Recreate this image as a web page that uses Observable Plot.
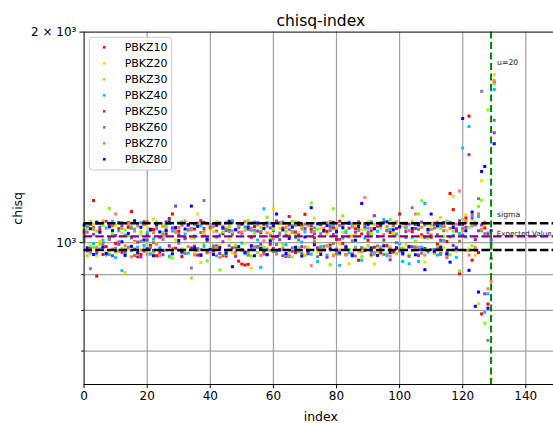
<!DOCTYPE html>
<html><head><meta charset="utf-8">
<script src="https://cdn.jsdelivr.net/npm/d3@7"></script>
<script src="https://cdn.jsdelivr.net/npm/@observablehq/plot@0.6"></script>
<style>
body{margin:0;background:#fff;}
#chart svg{font-family:"DejaVu Sans",sans-serif;}
</style></head><body><div id="chart"></div>
<script>
const seriesNames = ["PBKZ10","PBKZ20","PBKZ30","PBKZ40","PBKZ50","PBKZ60","PBKZ70","PBKZ80"];
const seriesColors = ["#ff0000","#ffd700","#7cfc00","#00bfff","#9932cc","#808080","#ff7f50","#0000ff"];

const pbkz10 = [
1032,1058,985,1149,896,1041,962,987,1066,1023,
998,1047,969,976,1052,1108,1003,955,962,1071,
1026,991,1044,958,968,1057,1029,1083,1099,982,
1038,955,1017,1062,983,1046,960,1075,1024,972,
1051,973,989,1064,1030,957,1042,1070,986,941,
932,929,931,1018,1055,987,1033,970,1067,995,
1041,1021,978,1049,956,1090,1036,968,1027,1058,
1098,964,1045,1016,983,1061,976,1038,992,1050,
1011,1073,997,961,1021,961,1047,944,1029,1065,
1008,1040,985,1056,967,1071,990,1034,970,1048,
1099,975,1052,988,1037,1062,959,1026,981,1043,
1018,1066,995,963,1057,1004,1176,1115,1039,903,
1062,1085,1517,944,1010,968,791,1050,817,950,1696];
const pbkz20 = [
1012,1046,990,1063,958,1005,1075,971,970,1021,
1059,994,1033,906,979,1068,1001,963,1026,985,
1052,966,1081,998,1036,1060,975,952,1047,1009,
1070,980,964,1043,1015,967,1099,937,1029,1061,
983,1037,1072,990,959,1050,1011,967,1040,978,
1066,998,961,920,1023,1058,979,1045,982,1030,
1118,965,1049,992,1062,1026,954,1071,1035,960,
1042,986,1057,1084,970,1048,973,1027,1063,962,
1053,996,1035,1069,933,1024,1058,970,1043,981,
1072,958,932,1039,1061,988,1048,987,1031,1066,
1021,1055,993,961,1074,975,1046,1019,939,1062,
1028,965,1052,1086,984,1040,1067,1165,972,1002,
1045,1096,980,1075,960,818,1226,1060,1035,638,1738];
const pbkz30 = [
1048,958,1073,985,1039,994,1060,964,1119,1031,
969,1066,981,1043,1024,1054,960,972,1037,1062,
999,1045,968,1070,979,1035,1056,987,951,1049,
1026,1064,976,1040,890,1017,1058,962,996,942,
1047,980,1068,914,1036,963,1055,1029,990,1063,
974,1041,1076,957,1034,968,1052,985,1087,1011,
1044,966,1064,995,1038,973,1072,1030,984,1051,
959,1060,1139,1007,1045,977,1066,989,930,1118,
1035,962,1093,1041,978,1057,1023,1070,955,1046,
990,1031,1063,971,1050,1002,964,1079,1024,965,
1056,983,1043,958,1067,1005,1099,1148,976,1015,
1059,969,986,1048,1021,1074,961,1039,1062,911,
1080,975,1052,990,1070,1127,1150,767,1548,990,1687];
const pbkz40 = [
1019,1054,967,997,1065,980,1008,1049,962,1072,
952,1040,912,1025,1061,974,1045,985,1068,991,
1033,963,1012,1046,984,1027,1063,957,1039,1052,
975,1070,1029,966,1048,1022,975,1058,988,1011,
1062,990,958,1026,1055,971,1037,1075,964,1050,
999,965,1060,982,1042,1009,922,1118,977,1066,
1013,969,1025,1071,993,955,1058,1017,972,1002,
1036,1064,963,1050,940,987,1068,960,1043,1060,
979,928,1054,1034,967,1064,985,1041,944,1015,
1049,1071,968,1038,980,1079,958,1045,1060,1029,
996,940,1052,933,1018,1066,940,985,1138,970,
1044,978,960,1058,1007,971,1070,1024,953,1031,
1366,1019,1466,1057,975,1090,1040,795,845,1000,1656];
const pbkz50 = [
1040,973,1062,1028,966,1051,985,1073,1011,958,
1024,995,1057,969,1069,1016,979,1002,954,1064,
1009,1042,975,1060,1018,961,1071,990,1050,1128,
1026,968,1013,1058,981,989,1066,959,1048,1007,
977,1063,1019,965,1003,1041,1070,983,956,1056,
1032,970,1045,1067,986,1039,995,1061,962,1050,
981,1074,1010,958,1025,1060,972,1036,1068,987,
1048,966,1057,1031,979,1065,1038,953,1054,1027,
974,1011,1062,988,1049,964,1035,1071,982,1053,
1030,961,1093,1021,976,1009,1040,945,1067,984,
1052,968,1037,1063,987,1048,960,1070,1018,974,
1023,1061,979,1008,1055,963,1066,991,1047,1075,
1025,1052,1336,1085,1010,1040,1060,845,1030,1010,1436];
const pbkz60 = [
1008,1035,918,1052,974,1064,997,961,1013,1057,
982,1003,1068,966,985,1049,958,1061,1005,972,
1071,984,1000,1053,962,1011,1046,1066,975,1037,
998,1059,965,1044,920,1062,981,1034,1149,967,
1050,986,1039,1068,957,1045,990,1028,969,1035,
978,1053,960,1042,1070,985,1037,963,1056,1023,
971,994,1032,1065,959,1044,983,1059,1009,966,
1063,976,1036,1002,955,1030,988,1067,1041,997,
964,1058,1015,980,1070,1006,957,1050,984,1062,
1036,971,1047,989,1068,962,1041,980,1057,1000,
973,1066,1017,956,1122,986,1045,966,1060,1033,
978,1049,1027,965,1040,952,1019,1058,985,1005,
1048,1070,975,1095,1060,1156,1646,1030,725,980,1496];
const pbkz70 = [
1027,1062,968,1045,985,1036,1070,961,1053,979,
1099,972,1048,990,1065,955,1039,1056,976,1061,
963,1047,1033,995,958,1020,1041,1069,981,1035,
1051,966,1074,987,1043,960,1060,978,1038,1066,
970,1054,985,953,1047,1068,977,1040,964,1057,
1036,1072,971,1049,988,1061,959,1006,1033,975,
1017,963,1069,982,1051,960,1035,1063,974,1046,
986,1058,927,1038,1065,969,1049,990,1072,958,
1043,976,1060,961,1019,1053,982,1066,970,1160,
1020,1048,963,1062,986,1027,1055,957,1044,1071,
981,962,1059,1041,974,1099,985,1052,960,1066,
1045,968,1070,989,1056,957,1048,976,1063,1185,
1040,1075,960,1060,985,1100,1045,1070,859,880,1705];
const pbkz80 = [
1060,983,1047,962,1070,1035,986,965,1054,1041,
974,1068,1003,959,1031,988,1075,967,1052,1009,
980,1044,958,1063,1036,975,1040,1071,964,1050,
1007,971,1046,1061,1128,983,1055,960,1068,1012,
978,962,1059,984,1050,966,1073,924,1044,987,
1063,968,1051,990,958,1067,982,1048,961,1006,
1057,1099,976,1043,965,1014,1052,985,1061,957,
1019,974,1122,993,1064,962,1041,1058,980,1069,
1037,967,1050,985,1066,958,1008,1055,1138,975,
1062,983,1047,959,1059,990,1071,968,1043,982,
1054,965,1066,986,1048,961,1060,977,915,1045,
1099,972,1057,984,1068,964,938,1051,979,1063,
1505,1040,913,1106,811,850,1264,1285,806,1040,1385];

const seriesValues = [pbkz10,pbkz20,pbkz30,pbkz40,pbkz50,pbkz60,pbkz70,pbkz80];

const expectedValue = 1021;
const sigma = 45;
const uIndex = 129;
const xTicks = [0,20,40,60,80,100,120,140];
const yMajorTicks = [1000, 2000];
const yTickLabels = ["10³", "2 × 10³"];
const yMinorTicks = [700, 800, 900];
const annotations = [
  {text: "u=20", x: 130.9, y: 1809, size: 7.7},
  {text: "sigma", x: 130.9, y: 1098, size: 7.7},
  {text: "Expected Value", x: 130.8, y: 1031, size: 7.1}
];

const points = seriesNames.flatMap((name, s) =>
  seriesValues[s].map((v, i) => ({series: name, index: i, value: v})));

const W = 553, H = 423;
const mL = 83.6, mT = 31.6, mB = 39, mR = 0;
const xMax = (W - mL) / 3.155;

const chart = Plot.plot({
  width: W, height: H,
  marginLeft: mL, marginTop: mT, marginBottom: mB, marginRight: mR,
  style: {fontFamily: "DejaVu Sans, sans-serif", fontSize: "12px", background: "white", color: "black"},
  x: {domain: [0, xMax], axis: null},
  y: {type: "log", domain: [627, 2000], axis: null},
  color: {domain: seriesNames, range: seriesColors},
  marks: [
    Plot.gridX(xTicks.slice(1), {stroke: "#a0a0a0", strokeOpacity: 1, strokeWidth: 1.2}),
    Plot.gridY([...yMinorTicks, 1000], {stroke: "#a0a0a0", strokeOpacity: 1, strokeWidth: 1.2}),
    Plot.dot(points, {x: "index", y: "value", fill: "series", symbol: "square", r: 1.7}),
    Plot.ruleY([expectedValue + sigma, expectedValue - sigma], {stroke: "black", strokeWidth: 2.4, strokeDasharray: "8.5,3.2"}),
    Plot.ruleY([expectedValue], {stroke: "#800080", strokeWidth: 2.4, strokeDasharray: "8.5,3.2"}),
    Plot.ruleX([uIndex], {stroke: "#008000", strokeWidth: 2, strokeDasharray: "7,3.5"}),
    Plot.text(annotations.slice(0, 2), {x: "x", y: "y", text: "text", textAnchor: "start", fontSize: 7.7, fill: "#222"}),
    Plot.text(annotations.slice(2), {x: "x", y: "y", text: "text", textAnchor: "start", fontSize: 7.1, fill: "#222"}),
    // spines
    Plot.ruleX([0], {stroke: "black", strokeWidth: 1}),
    Plot.ruleY([627], {stroke: "black", strokeWidth: 1}),
    Plot.ruleY([2000], {stroke: "black", strokeWidth: 1}),
    // axes
    Plot.axisX({ticks: xTicks, tickSize: 4.2, tickPadding: 3, fontSize: 12, label: null}),
    Plot.axisY({ticks: yMajorTicks, tickFormat: d => yTickLabels[yMajorTicks.indexOf(d)], tickSize: 4.2, tickPadding: 3.5, fontSize: 12, label: null}),
    Plot.axisY({ticks: yMinorTicks, tickFormat: () => "", tickSize: 2.4, label: null}),
    // titles
    Plot.text(["chisq-index"], {frameAnchor: "top", lineAnchor: "middle", dy: -11, dx: 2, fontSize: 15.5}),
    Plot.text(["index"], {frameAnchor: "bottom", lineAnchor: "middle", dy: 32, dx: 2, fontSize: 12.5}),
    Plot.text(["chisq"], {frameAnchor: "left", lineAnchor: "middle", textAnchor: "middle", dx: -66.6, rotate: -90, fontSize: 12.5})
  ]
});

// legend
const svg = d3.select(chart);
const lg = svg.append("g").attr("font-family", "DejaVu Sans, sans-serif").attr("text-anchor", "start");
lg.append("rect").attr("x", 89.3).attr("y", 37.3).attr("width", 82.4).attr("height", 132.7)
  .attr("rx", 3).attr("fill", "white").attr("fill-opacity", 0.8).attr("stroke", "#cccccc");
seriesNames.forEach((name, i) => {
  const cy = 47.3 + i * 16;
  lg.append("rect").attr("x", 103).attr("y", cy - 1.3).attr("width", 2.6).attr("height", 2.6).attr("fill", seriesColors[i]);
  lg.append("text").attr("x", 124.7).attr("y", cy).attr("dy", "0.36em").attr("font-size", 11)
    .attr("text-anchor", "start").attr("fill", "black").text(name);
});

const bad = seriesValues.map((a, i) => a.length !== 131 ? seriesNames[i] + ":" + a.length : null).filter(Boolean);
if (bad.length) svg.append("text").attr("x", 200).attr("y", 150).attr("fill", "red").text("LEN " + bad.join(" "));

document.getElementById("chart").appendChild(chart);
</script>
</body></html>
